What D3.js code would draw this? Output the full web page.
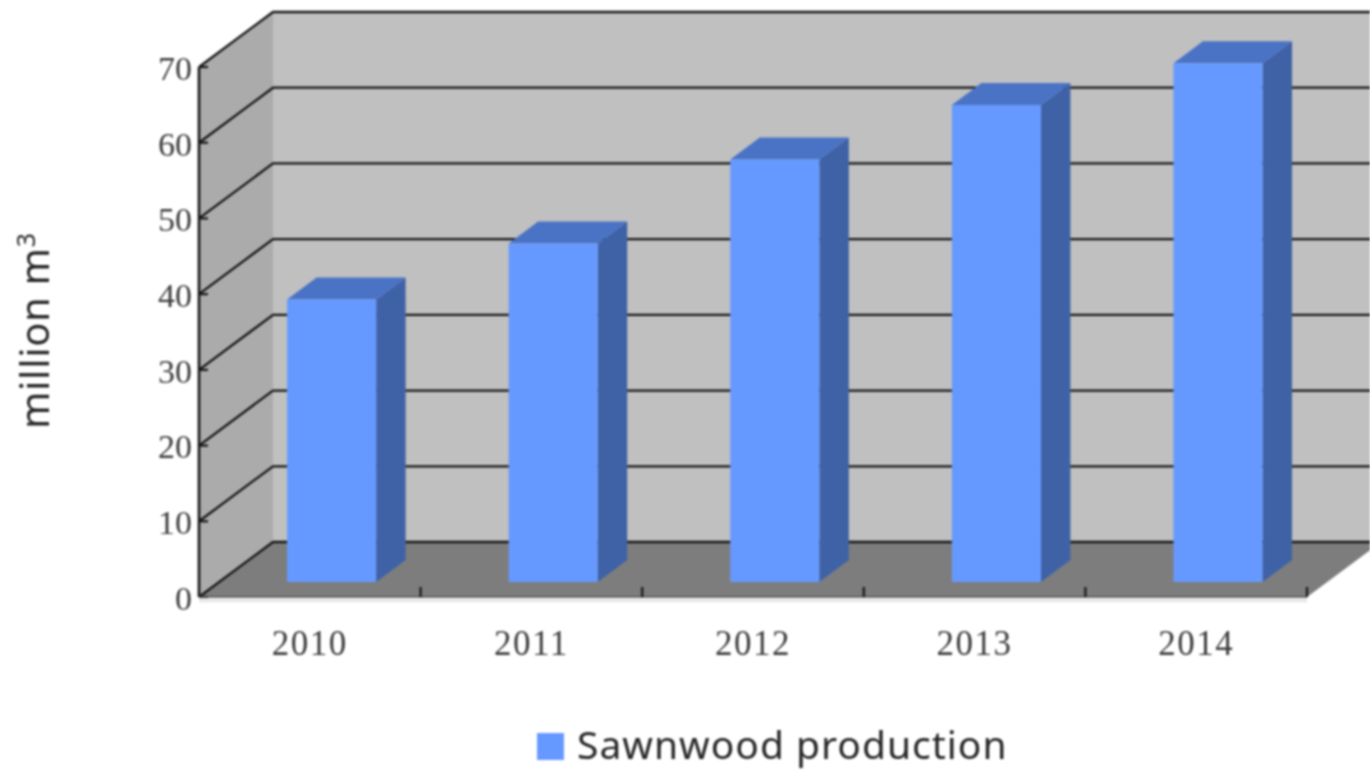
<!DOCTYPE html>
<html><head><meta charset="utf-8">
<script src="https://cdn.jsdelivr.net/npm/d3@7/dist/d3.min.js"></script>
<style>
html,body{margin:0;padding:0;background:#fff;overflow:hidden}
svg{display:block;filter:blur(0.9px)}
</style></head><body>
<svg id="c" width="1370" height="770"></svg>
<script>
const categories=["2010","2011","2012","2013","2014"];
const production=[37.3,44.7,55.8,63.0,68.5];
const seriesName="Sawnwood production";
const yTicks=[0,10,20,30,40,50,60,70];
const colors={wall:"#c0c0c0",sideWall:"#ababab",floor:"#7d7d7d",bar:"#6699ff",barSide:"#3f62a6",barTop:"#4a73c5",line:"#161616"};

const svg=d3.select("#c");
const x=d3.scaleBand().domain(categories).range([199,1307]);
const y=d3.scaleLinear().domain([0,70]).range([597,67]);
const depth={dx:74,dy:-55};
const barOff={dx:21.8,dy:-15};
const barDepth={dx:29.5,dy:-22};
const barW=x.step()*0.402;
const poly=(pts,fill)=>svg.append("polygon").attr("points",pts.map(p=>p.join(",")).join(" ")).attr("fill",fill);
const xL=x.range()[0],xR=x.range()[1],y0=y(0),yT=y(70);

// planes
poly([[xL+depth.dx,yT+depth.dy],[xR+depth.dx,yT+depth.dy],[xR+depth.dx,y0+depth.dy],[xL+depth.dx,y0+depth.dy]],colors.wall);
poly([[xL,yT],[xL+depth.dx,yT+depth.dy],[xL+depth.dx,y0+depth.dy],[xL,y0]],colors.sideWall);
poly([[xL,y0],[xL+depth.dx,y0+depth.dy],[xR+depth.dx,y0+depth.dy],[xR,y0]],colors.floor);
svg.append("line").attr("x1",xL).attr("x2",xR).attr("y1",y0+3.5).attr("y2",y0+3.5).attr("stroke","#e6e6e6").attr("stroke-width",3.5);

// gridlines
yTicks.forEach(t=>{
  svg.append("path").attr("fill","none").attr("stroke",colors.line).attr("stroke-width",2.3)
    .attr("d",d3.line()([[xL,y(t)],[xL+depth.dx,y(t)+depth.dy],[xR+depth.dx,y(t)+depth.dy]]));
});

// bars
const g=svg.append("g").selectAll("g").data(categories).join("g");
g.each(function(c,i){
  const s=d3.select(this);
  const l=x(c)+x.bandwidth()/2-barW/2+barOff.dx, r=l+barW;
  const b=y(0)+barOff.dy, t=y(production[i])+barOff.dy;
  const pg=(pts,f)=>s.append("polygon").attr("points",pts.map(p=>p.join(",")).join(" ")).attr("fill",f);
  pg([[r,t],[r+barDepth.dx,t+barDepth.dy],[r+barDepth.dx,b+barDepth.dy],[r,b]],colors.barSide);
  pg([[l,t],[l+barDepth.dx,t+barDepth.dy],[r+barDepth.dx,t+barDepth.dy],[r,t]],colors.barTop);
  s.append("rect").attr("x",l).attr("y",t).attr("width",barW).attr("height",b-t).attr("fill",colors.bar);
});

// axes
const serif='"Liberation Serif",serif';
const ax=svg.append("g").attr("transform",`translate(${xL},0)`)
  .call(d3.axisLeft(y).tickValues(yTicks).tickFormat(d3.format("d")).tickSize(-9).tickPadding(6).tickSizeOuter(0).offset(0));
ax.selectAll("path.domain").attr("stroke",colors.line).attr("stroke-width",2.6);
ax.selectAll(".tick line").attr("stroke",colors.line).attr("stroke-width",2.2);
ax.selectAll("text").attr("font-family",serif).attr("font-size",34).attr("fill","#3c3c3c").attr("y",2).attr("dx",-1);

const bx=svg.append("g").attr("transform",`translate(0,${y0})`)
  .call(d3.axisBottom(x).tickSize(0).tickPadding(33).offset(0));
bx.selectAll("path.domain").attr("stroke","#555").attr("stroke-width",1.5);
bx.selectAll("text").attr("font-family",serif).attr("font-size",35).attr("letter-spacing","1.5px").attr("fill","#3c3c3c");
categories.forEach(c=>{
  svg.append("line").attr("x1",x(c)+x.step()).attr("x2",x(c)+x.step())
    .attr("y1",y0-10).attr("y2",y0).attr("stroke",colors.line).attr("stroke-width",2.2);
});

// y title
const sans='"Noto Sans",sans-serif';
const title=svg.append("text").attr("transform","translate(49,429) rotate(-90)")
  .attr("font-family",sans).attr("font-size",40).attr("letter-spacing","0.7px").attr("fill","#262626");
title.append("tspan").text("million m");
title.append("tspan").text("3").attr("font-size",25).attr("dy",-14);

// legend
svg.append("rect").attr("x",537).attr("y",733).attr("width",27).attr("height",27).attr("fill",colors.bar);
svg.append("text").attr("x",577).attr("y",759).attr("font-family",sans).attr("font-size",39).attr("letter-spacing","1px").attr("fill","#262626").text(seriesName);
</script>
</body></html>
